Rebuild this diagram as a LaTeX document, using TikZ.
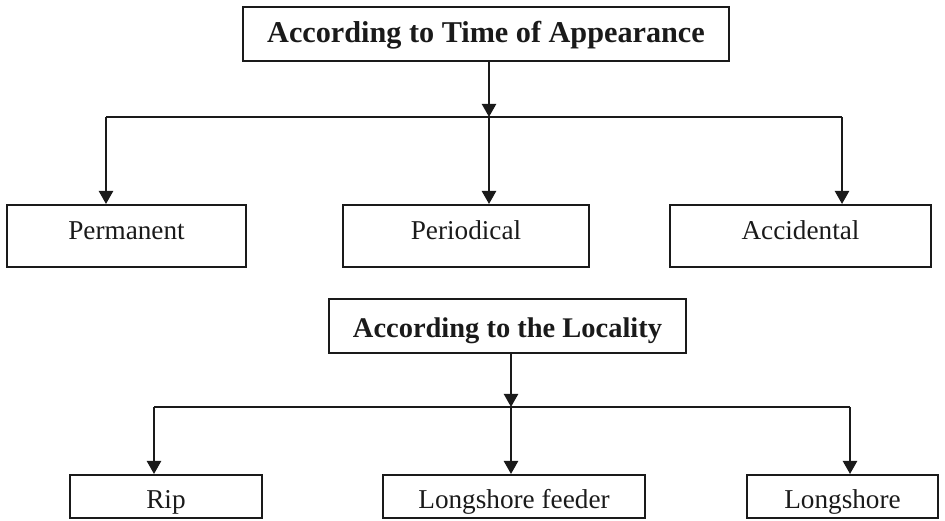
\documentclass[tikz,border=0pt]{standalone}
\usepackage{fontspec}
\setmainfont{Liberation Serif}
\usepackage{tikz}
\usetikzlibrary{arrows.meta}
\definecolor{inkblack}{HTML}{1A1A1A}
\tikzset{
  titlebox/.style={
    draw=inkblack,
    line width=1.1pt,
    inner xsep=0pt,
    inner ysep=0pt,
    align=center,
    text=inkblack
  },
  leafbox/.style={
    titlebox,
    font=\fontsize{15.5}{18}\selectfont
  },
  flowarrow/.style={
    -{Triangle[length=7.5pt,width=8pt]},
    line width=1.5pt,
    draw=inkblack
  },
  busline/.style={
    line width=1pt,
    draw=inkblack
  }
}
\begin{document}
\begin{tikzpicture}[x=0.02cm, y=-0.02cm]
    \useasboundingbox (0,0) rectangle (945,520);

    % first tree: time of appearance
    \node[titlebox, font=\bfseries\fontsize{17.2}{20}\selectfont, minimum width=9.72cm, text height=0.72cm, text depth=0.36cm] (timehead) at (486,34) {According to Time of Appearance};
    \node[leafbox, minimum width=4.78cm, text height=0.68cm, text depth=0.56cm] (permanent) at (126.5,236) {Permanent};
    \node[leafbox, minimum width=4.92cm, text height=0.68cm, text depth=0.56cm] (periodical) at (466,236) {Periodical};
    \node[leafbox, minimum width=5.22cm, text height=0.68cm, text depth=0.56cm] (accidental) at (800.5,236) {Accidental};

    \coordinate (busA) at (489,117);
    \coordinate (busAl) at (106,117);
    \coordinate (busAr) at (842,117);
    \draw[flowarrow] (timehead.south -| busA) -- (busA);
    \draw[busline] (busAl) -- (busAr);
    \draw[flowarrow] (busAl) -- (busAl |- permanent.north);
    \draw[flowarrow] (busA) -- (busA |- periodical.north);
    \draw[flowarrow] (busAr) -- (busAr |- accidental.north);

    % second tree: locality
    \node[titlebox, font=\bfseries\fontsize{16.2}{19}\selectfont, minimum width=7.14cm, text height=0.76cm, text depth=0.32cm] (localityhead) at (507.5,326) {According to the Locality};
    \node[leafbox, minimum width=3.84cm, text height=0.66cm, text depth=0.2cm] (rip) at (166,496.5) {Rip};
    \node[leafbox, minimum width=5.24cm, text height=0.66cm, text depth=0.2cm] (feeder) at (514,496.5) {Longshore feeder};
    \node[leafbox, minimum width=3.82cm, text height=0.66cm, text depth=0.2cm] (longshore) at (842.5,496.5) {Longshore};

    \coordinate (busB) at (511,407);
    \coordinate (busBl) at (154,407);
    \coordinate (busBr) at (850,407);
    \draw[flowarrow] (localityhead.south -| busB) -- (busB);
    \draw[busline] (busBl) -- (busBr);
    \draw[flowarrow] (busBl) -- (busBl |- rip.north);
    \draw[flowarrow] (busB) -- (busB |- feeder.north);
    \draw[flowarrow] (busBr) -- (busBr |- longshore.north);
\end{tikzpicture}
\end{document}
